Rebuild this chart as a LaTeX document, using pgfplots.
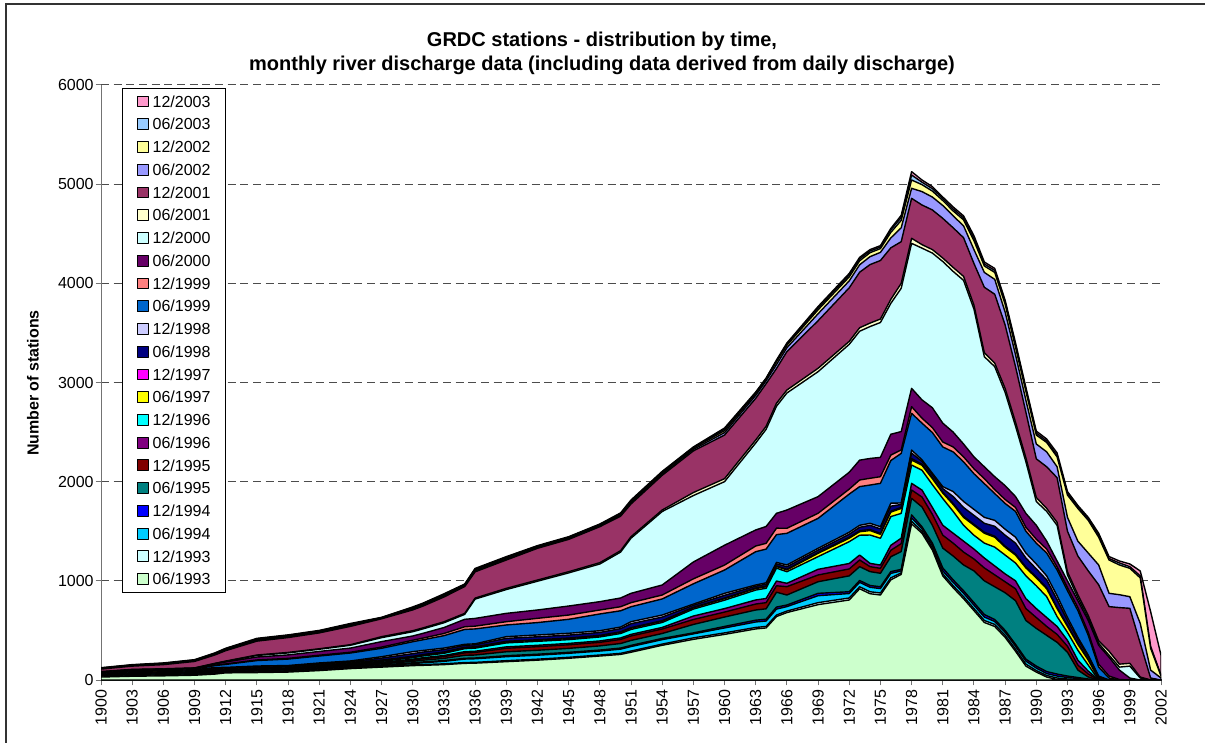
\documentclass[border=0pt]{standalone}
\usepackage{fontspec}
\setmainfont{Liberation Sans}
\usepackage{pgfplots}
\usepackage{pgfplotstable}
\pgfplotsset{compat=1.18}
\definecolor{c0312}{HTML}{FF99CC}
\definecolor{c0306}{HTML}{99CCFF}
\definecolor{c0212}{HTML}{FFFF99}
\definecolor{c0206}{HTML}{9999FF}
\definecolor{c0112}{HTML}{993366}
\definecolor{c0106}{HTML}{FFFFCC}
\definecolor{c0012}{HTML}{CCFFFF}
\definecolor{c0006}{HTML}{660066}
\definecolor{c9912}{HTML}{FF8080}
\definecolor{c9906}{HTML}{0066CC}
\definecolor{c9812}{HTML}{CCCCFF}
\definecolor{c9806}{HTML}{000080}
\definecolor{c9712}{HTML}{FF00FF}
\definecolor{c9706}{HTML}{FFFF00}
\definecolor{c9612}{HTML}{00FFFF}
\definecolor{c9606}{HTML}{800080}
\definecolor{c9512}{HTML}{800000}
\definecolor{c9506}{HTML}{008080}
\definecolor{c9412}{HTML}{0000FF}
\definecolor{c9406}{HTML}{00CCFF}
\definecolor{c9312}{HTML}{CCFFFF}
\definecolor{c9306}{HTML}{CCFFCC}
% cumulative number of stations per year, as held at each inventory date
\pgfplotstableread{
year s9306 s9312 s9406 s9412 s9506 s9512 s9606 s9612 s9706 s9712 s9806 s9812 s9906 s9912 s0006 s0012 s0106 s0112 s0206 s0212 s0306 s0312
1900 30 34 38 42 46 50 54 58 62 66 70 74 74 77 80 83 85 110 114 118 121 124
1903 38 43 48 53 58 63 68 73 78 83 88 93 95 98 102 105 107 140 144 148 151 155
1906 42 47 52 57 62 67 72 77 82 87 92 97 100 103 108 111 113 155 160 165 168 172
1909 48 53 58 63 68 73 78 83 88 93 98 103 108 111 117 120 122 187 192 197 201 205
1911 60 66 72 78 84 90 96 102 108 114 120 126 146 150 162 166 169 254 260 266 270 275
1912 72 77 82 87 92 97 102 107 112 117 122 127 157 162 182 187 191 296 303 310 315 320
1915 75 81 87 93 99 105 111 117 123 129 135 141 196 202 232 247 252 392 400 408 414 420
1918 80 86 92 98 104 110 116 122 128 134 140 146 211 218 253 273 278 428 436 444 450 455
1921 95 102 109 116 123 130 137 144 151 158 165 172 242 250 288 310 315 475 483 490 495 500
1924 115 122 129 136 143 150 157 164 171 178 185 192 272 280 322 350 356 541 550 558 564 570
1927 130 137 145 152 162 170 178 188 195 201 221 235 320 332 387 427 437 617 622 626 629 632
1930 145 153 165 173 188 200 210 225 233 239 266 286 386 401 444 487 497 707 715 723 730 737
1931 148 156 174 182 200 215 225 243 251 257 282 298 406 423 471 516 526 746 754 762 769 776
1933 155 163 188 196 218 236 247 269 277 283 307 322 447 469 529 577 587 837 847 856 863 869
1935 168 176 211 219 249 274 286 316 324 330 350 360 510 537 612 662 672 942 950 958 963 968
1936 170 178 214 222 252 278 290 321 329 335 355 365 515 543 621 816 826 1091 1101 1111 1118 1125
1939 185 195 235 245 285 320 334 374 384 390 420 437 555 588 672 912 924 1210 1220 1230 1237 1244
1942 200 210 250 260 300 336 350 390 400 406 436 454 579 622 706 996 1008 1328 1336 1344 1350 1355
1945 219 229 269 279 319 355 369 407 417 423 453 471 612 655 746 1080 1092 1418 1426 1434 1440 1445
1948 242 252 292 302 344 380 394 434 444 450 480 497 666 706 790 1170 1183 1546 1554 1562 1568 1573
1950 258 269 311 322 368 409 424 469 480 486 518 534 698 739 827 1290 1304 1652 1662 1671 1678 1685
1951 280 292 337 349 399 444 460 510 522 528 568 588 739 780 874 1430 1445 1775 1787 1799 1807 1815
1954 350 362 407 419 469 514 530 580 592 598 635 655 817 857 958 1699 1714 2064 2076 2088 2096 2104
1957 410 425 465 475 560 610 645 715 727 733 753 765 970 1020 1190 1860 1890 2310 2325 2337 2344 2350
1960 460 475 525 540 635 685 720 805 820 826 854 874 1109 1159 1359 2000 2030 2470 2495 2515 2530 2541
1963 515 530 585 603 706 766 807 907 922 928 946 958 1294 1351 1513 2390 2420 2840 2870 2888 2896 2904
1964 525 540 595 613 718 780 822 925 940 946 966 980 1320 1378 1548 2528 2558 2988 3018 3033 3040 3045
1965 640 655 715 735 885 950 998 1128 1144 1150 1172 1186 1466 1531 1681 2761 2791 3141 3181 3209 3219 3227
1966 680 695 740 756 857 941 975 1092 1110 1116 1142 1160 1479 1530 1714 2894 2924 3311 3351 3376 3388 3398
1969 760 780 850 874 991 1059 1116 1244 1277 1285 1310 1328 1630 1681 1849 3109 3143 3623 3693 3733 3751 3766
1972 807 827 872 890 1050 1120 1175 1395 1430 1440 1470 1490 1875 1925 2095 3385 3415 3955 4025 4065 4085 4100
1973 920 940 985 1003 1143 1210 1260 1460 1495 1505 1540 1560 1950 2017 2217 3517 3552 4112 4187 4227 4247 4262
1974 870 890 935 953 1093 1143 1176 1462 1507 1517 1560 1580 1966 2034 2234 3564 3599 4189 4269 4309 4326 4340
1975 857 877 922 940 1076 1126 1159 1429 1469 1479 1524 1546 1983 2050 2245 3605 3640 4230 4312 4350 4366 4380
1976 1010 1030 1075 1093 1243 1308 1358 1648 1693 1703 1753 1783 2213 2268 2478 3798 3838 4358 4458 4513 4538 4553
1977 1065 1080 1100 1115 1295 1375 1430 1680 1730 1740 1770 1785 2285 2320 2505 3950 4000 4420 4560 4635 4665 4685
1978 1575 1600 1635 1665 1832 1916 1983 2168 2218 2233 2288 2319 2689 2756 2941 4403 4454 4857 4958 5042 5092 5126
1979 1480 1500 1525 1545 1745 1845 1915 2115 2165 2175 2205 2220 2590 2640 2825 4355 4390 4790 4925 4995 5020 5042
1980 1310 1330 1355 1380 1560 1670 1740 1970 2030 2040 2070 2085 2495 2545 2745 4305 4340 4740 4870 4930 4955 4975
1981 1050 1070 1100 1130 1330 1460 1560 1830 1885 1895 1930 1950 2350 2400 2590 4220 4255 4655 4785 4835 4855 4870
1982 930 950 985 1010 1250 1380 1480 1700 1770 1780 1850 1900 2300 2350 2500 4120 4160 4560 4680 4730 4750 4770
1983 820 840 875 900 1160 1290 1400 1560 1640 1650 1740 1800 2200 2250 2380 4030 4070 4460 4580 4640 4660 4680
1984 700 720 755 780 1100 1220 1320 1460 1560 1570 1660 1720 2080 2130 2250 3740 3780 4200 4340 4430 4455 4480
1985 580 600 635 660 1000 1130 1230 1380 1480 1490 1580 1640 1980 2030 2150 3260 3300 3960 4110 4175 4195 4215
1986 540 560 590 610 940 1060 1150 1340 1440 1450 1550 1610 1880 1920 2050 3160 3195 3890 4040 4110 4130 4150
1987 430 450 480 500 880 990 1070 1260 1340 1350 1460 1520 1780 1820 1960 2900 2940 3580 3710 3790 3810 3830
1988 290 310 340 360 800 920 1000 1180 1260 1270 1380 1440 1700 1740 1850 2560 2600 3160 3280 3355 3378 3400
1989 140 160 190 210 600 720 820 1050 1130 1140 1230 1280 1500 1540 1680 2200 2240 2700 2820 2910 2930 2950
1990 80 95 120 140 520 630 720 950 1030 1040 1120 1170 1380 1420 1560 1800 1840 2230 2380 2470 2490 2510
1991 30 45 65 85 450 540 630 840 920 930 1010 1050 1280 1320 1400 1700 1730 2150 2300 2395 2410 2430
1992 5 20 40 60 380 460 540 640 720 730 810 850 1110 1140 1200 1560 1590 2040 2150 2250 2265 2290
1993 0 10 25 40 280 340 400 480 540 550 600 630 900 930 1000 1060 1090 1500 1640 1865 1882 1900
1994 0 5 15 25 100 150 200 300 360 370 410 430 700 730 800 830 860 1250 1400 1730 1745 1760
1995 0 0 5 10 30 60 90 150 200 210 240 250 450 480 600 625 650 1100 1280 1610 1625 1640
1996 0 0 0 0 0 0 0 0 10 15 30 40 130 160 350 370 395 960 1160 1440 1460 1480
1997 0 0 0 0 0 0 0 0 0 0 0 0 20 40 230 250 290 740 874 1210 1225 1245
1998 0 0 0 0 0 0 0 0 0 0 0 0 0 5 100 130 160 730 860 1160 1180 1200
1999 0 0 0 0 0 0 0 0 0 0 0 0 0 0 20 140 168 723 840 1126 1143 1170
2000 0 0 0 0 0 0 0 0 0 0 0 0 0 0 0 20 30 370 571 1030 1050 1100
2001 0 0 0 0 0 0 0 0 0 0 0 0 0 0 0 0 0 20 100 320 340 690
2002 0 0 0 0 0 0 0 0 0 0 0 0 0 0 0 0 0 0 20 40 50 250
}\grdc

\begin{document}
\begin{tikzpicture}[x=1pt,y=1pt]
\useasboundingbox (0,0) rectangle (903.75,556.5);
\draw[line width=1.1pt, black!80] (4.5,-10) -- (4.5,553.5) -- (920,553.5);
\node[font=\fontsize{15}{18}\selectfont\bfseries, align=center] at (451.5,516.75)
  {GRDC stations - distribution by time,\\monthly river discharge data (including data derived from daily discharge)};
\node[rotate=90, font=\fontsize{12}{14}\selectfont\bfseries] at (24.75,269.25) {Number of stations};
\begin{axis}[
  at={(75.75pt,46.5pt)}, anchor=south west,
  scale only axis, width=795pt, height=446.25pt,
  xmin=1900, xmax=2002, ymin=0, ymax=6000,
  axis x line*=bottom, axis y line*=left,
  axis line style={black!55, line width=0.75pt},
  xtick={1900,1903,...,2002}, minor x tick num=2,
  ytick={0,1000,...,6000},
  tick align=outside, major tick length=4pt, minor tick length=4pt,
  tick style={black!55, line width=0.75pt},
  ymajorgrids, major grid style={black!70, line width=0.75pt, dash pattern=on 6pt off 3.5pt},
  /pgf/number format/1000 sep={},
  /pgf/number format/assume math mode=true,
  xticklabel style={rotate=90, anchor=east, font=\fontsize{12}{14}\selectfont},
  yticklabel style={font=\fontsize{12}{14}\selectfont, xshift=2pt},
  every axis plot/.append style={draw=black, line width=1.05pt, line join=round},
  legend cell align=left,
  legend image code/.code={\draw[#1, draw=black, line width=0.6pt] (0pt,-4.1pt) rectangle (8.25pt,4.1pt);},
  legend style={at={(0.0195,0.995)}, anchor=north west, draw=black, line width=0.75pt, fill=white,
    inner xsep=11pt, inner ysep=5.3pt, row sep=8.26pt, column sep=3pt,
    font=\fontsize{12}{14}\selectfont,
    nodes={inner sep=0pt, text height=8.6pt, text depth=0pt}},
]
\addplot[fill=c0312] table[x=year,y=s0312]{\grdc} \closedcycle; \addlegendentry{12/2003}
\addplot[fill=c0306] table[x=year,y=s0306]{\grdc} \closedcycle; \addlegendentry{06/2003}
\addplot[fill=c0212] table[x=year,y=s0212]{\grdc} \closedcycle; \addlegendentry{12/2002}
\addplot[fill=c0206] table[x=year,y=s0206]{\grdc} \closedcycle; \addlegendentry{06/2002}
\addplot[fill=c0112] table[x=year,y=s0112]{\grdc} \closedcycle; \addlegendentry{12/2001}
\addplot[fill=c0106] table[x=year,y=s0106]{\grdc} \closedcycle; \addlegendentry{06/2001}
\addplot[fill=c0012] table[x=year,y=s0012]{\grdc} \closedcycle; \addlegendentry{12/2000}
\addplot[fill=c0006] table[x=year,y=s0006]{\grdc} \closedcycle; \addlegendentry{06/2000}
\addplot[fill=c9912] table[x=year,y=s9912]{\grdc} \closedcycle; \addlegendentry{12/1999}
\addplot[fill=c9906] table[x=year,y=s9906]{\grdc} \closedcycle; \addlegendentry{06/1999}
\addplot[fill=c9812] table[x=year,y=s9812]{\grdc} \closedcycle; \addlegendentry{12/1998}
\addplot[fill=c9806] table[x=year,y=s9806]{\grdc} \closedcycle; \addlegendentry{06/1998}
\addplot[fill=c9712] table[x=year,y=s9712]{\grdc} \closedcycle; \addlegendentry{12/1997}
\addplot[fill=c9706] table[x=year,y=s9706]{\grdc} \closedcycle; \addlegendentry{06/1997}
\addplot[fill=c9612] table[x=year,y=s9612]{\grdc} \closedcycle; \addlegendentry{12/1996}
\addplot[fill=c9606] table[x=year,y=s9606]{\grdc} \closedcycle; \addlegendentry{06/1996}
\addplot[fill=c9512] table[x=year,y=s9512]{\grdc} \closedcycle; \addlegendentry{12/1995}
\addplot[fill=c9506] table[x=year,y=s9506]{\grdc} \closedcycle; \addlegendentry{06/1995}
\addplot[fill=c9412] table[x=year,y=s9412]{\grdc} \closedcycle; \addlegendentry{12/1994}
\addplot[fill=c9406] table[x=year,y=s9406]{\grdc} \closedcycle; \addlegendentry{06/1994}
\addplot[fill=c9312] table[x=year,y=s9312]{\grdc} \closedcycle; \addlegendentry{12/1993}
\addplot[fill=c9306] table[x=year,y=s9306]{\grdc} \closedcycle; \addlegendentry{06/1993}
\end{axis}
\end{tikzpicture}
\end{document}
